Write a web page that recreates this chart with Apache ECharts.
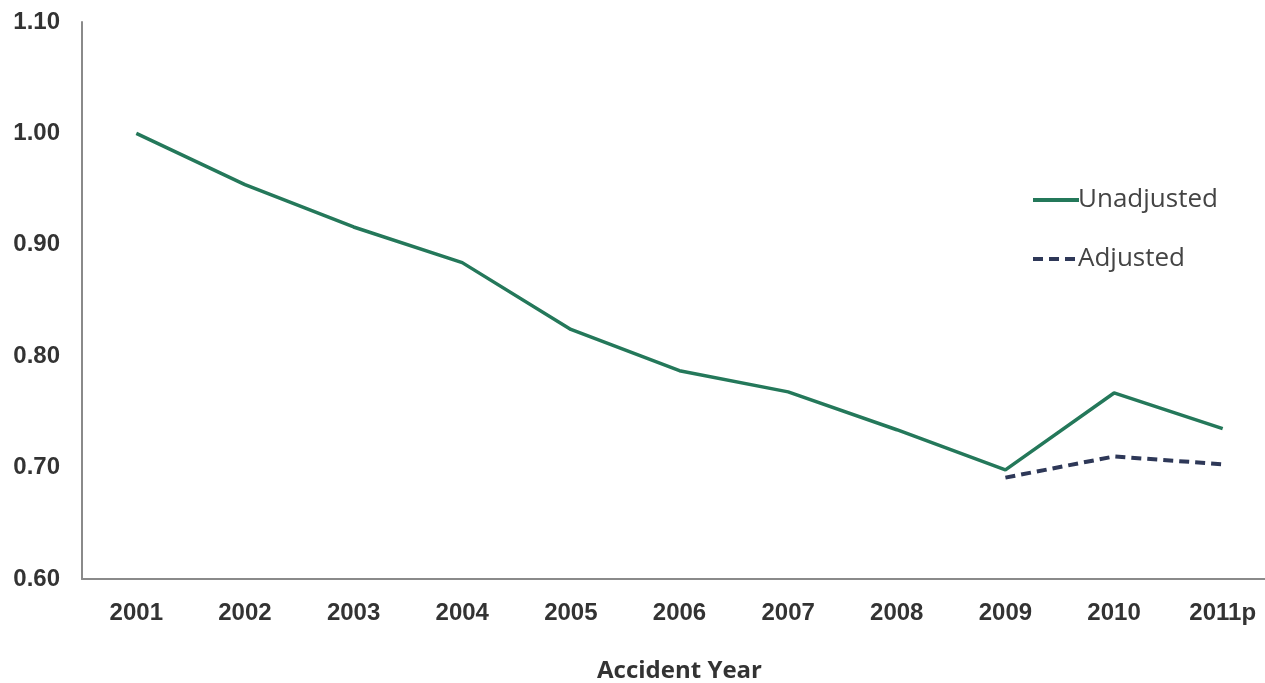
<!DOCTYPE html>
<html>
<head>
<meta charset="utf-8">
<script src="https://cdn.jsdelivr.net/npm/echarts@6/dist/echarts.min.js"></script>
<style>html,body{margin:0;padding:0;background:#fff}#c{width:1265px;height:683px}</style>
</head>
<body>
<div id="c"></div>
<script>
const categories = ['2001','2002','2003','2004','2005','2006','2007','2008','2009','2010','2011p'];
const unadjusted = [1.000, 0.954, 0.916, 0.884, 0.824, 0.787, 0.768, 0.734, 0.698, 0.767, 0.735];
const adjusted = [null, null, null, null, null, null, null, null, 0.691, 0.710, 0.703];
const yTicks = [0.6, 0.7, 0.8, 0.9, 1.0, 1.1];

const chart = echarts.init(document.getElementById('c'));
chart.setOption({
  backgroundColor: '#fff',
  animation: false,
  grid: { left: 82, right: -12, top: 22, bottom: 104, outerBoundsMode: 'none', containLabel: false },
  legend: {
    orient: 'vertical',
    left: 1026, top: 182,
    itemWidth: 46, itemHeight: 14, itemGap: 33,
    itemStyle: { opacity: 0 },
    lineStyle: { width: 4 },
    textStyle: { fontFamily: 'Open Sans', fontSize: 26, color: '#444', padding: [0,0,0,-6] },
    data: ['Unadjusted', 'Adjusted']
  },
  xAxis: {
    type: 'category',
    data: categories,
    boundaryGap: true,
    name: 'Accident Year',
    nameLocation: 'middle',
    nameGap: 80,
    nameTextStyle: { fontFamily: 'Open Sans', fontWeight: 'bold', fontSize: 24, color: '#333' },
    axisLine: { lineStyle: { color: '#8a8a8a', width: 2 } },
    axisTick: { show: false },
    axisLabel: { fontFamily: 'Liberation Sans', fontWeight: 'bold', fontSize: 24, color: '#333', margin: 22 }
  },
  yAxis: {
    type: 'value',
    min: 0.6, max: 1.1, interval: 0.1,
    axisLine: { show: true, lineStyle: { color: '#8a8a8a', width: 2 } },
    axisTick: { show: false },
    splitLine: { show: false },
    axisLabel: {
      fontFamily: 'Liberation Sans', fontWeight: 'bold', fontSize: 24, color: '#333', margin: 22,
      formatter: v => { const t = yTicks.find(x => Math.abs(x - v) < 1e-9); return (t !== undefined ? t : v).toFixed(2); }
    }
  },
  series: [
    { name: 'Unadjusted', type: 'line', data: unadjusted, symbol: 'none',
      lineStyle: { color: '#24785a', width: 3.5 }, itemStyle: { color: '#24785a' } },
    { name: 'Adjusted', type: 'line', data: adjusted, symbol: 'none',
      lineStyle: { color: '#2e3858', width: 4, type: [10, 6] }, itemStyle: { color: '#2e3858' } }
  ]
});
</script>
</body>
</html>
